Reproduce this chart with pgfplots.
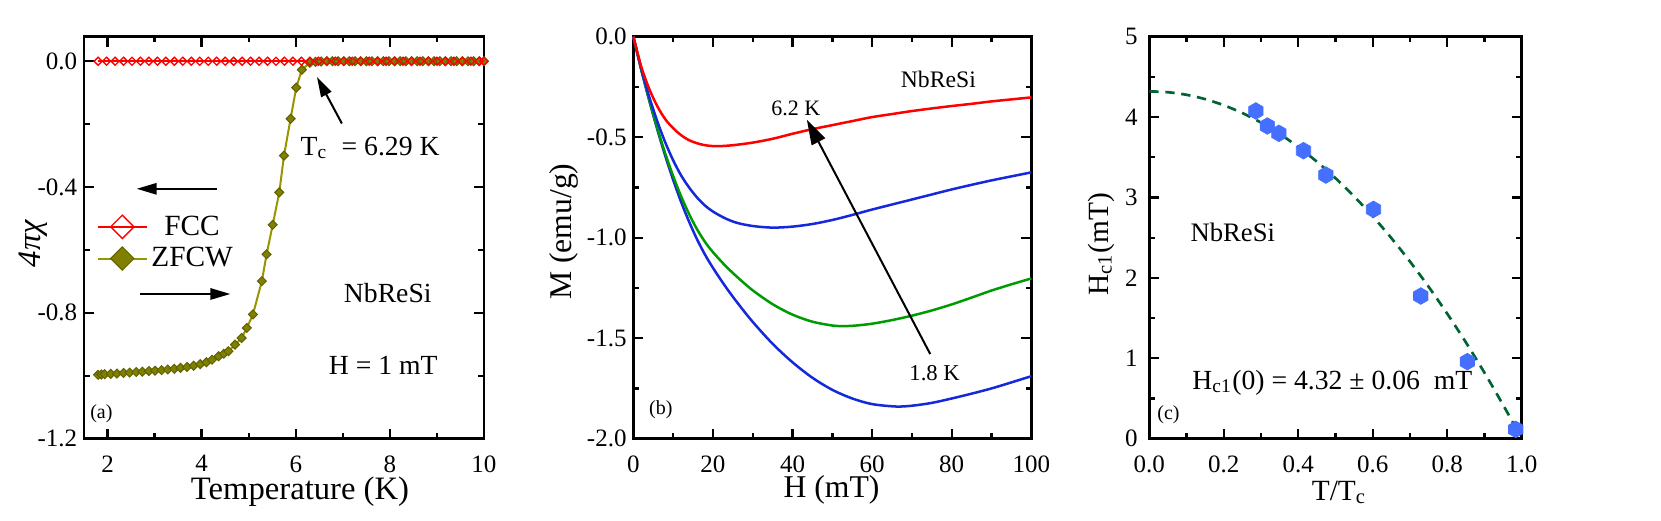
\documentclass[border=0pt]{standalone}
\usepackage{fontspec}
\setmainfont{Liberation Serif}
\usepackage{pgfplots}
\pgfplotsset{compat=1.18}
\usetikzlibrary{arrows.meta}

\definecolor{gred}{RGB}{255,0,0}
\definecolor{gblue}{RGB}{20,40,220}
\definecolor{ggreen}{RGB}{0,155,0}
\definecolor{golive}{RGB}{128,128,0}
\definecolor{goliveline}{RGB}{150,150,0}
\definecolor{hexblue}{RGB}{69,112,255}
\definecolor{dgreen}{RGB}{0,100,50}

\newcommand\fs[1]{\fontsize{#1}{#1}\selectfont}

% square diamond marks and a pointy-top hexagon
\pgfdeclareplotmark{sqdia}{%
  \pgfpathmoveto{\pgfqpoint{0pt}{\pgfplotmarksize}}%
  \pgfpathlineto{\pgfqpoint{\pgfplotmarksize}{0pt}}%
  \pgfpathlineto{\pgfqpoint{0pt}{-\pgfplotmarksize}}%
  \pgfpathlineto{\pgfqpoint{-\pgfplotmarksize}{0pt}}%
  \pgfpathclose\pgfusepathqstroke}
\pgfdeclareplotmark{sqdia*}{%
  \pgfpathmoveto{\pgfqpoint{0pt}{\pgfplotmarksize}}%
  \pgfpathlineto{\pgfqpoint{\pgfplotmarksize}{0pt}}%
  \pgfpathlineto{\pgfqpoint{0pt}{-\pgfplotmarksize}}%
  \pgfpathlineto{\pgfqpoint{-\pgfplotmarksize}{0pt}}%
  \pgfpathclose\pgfusepathqfillstroke}
\pgfdeclareplotmark{hex*}{%
  \pgfpathmoveto{\pgfqpoint{0pt}{\pgfplotmarksize}}%
  \pgfpathlineto{\pgfqpoint{0.866\pgfplotmarksize}{0.5\pgfplotmarksize}}%
  \pgfpathlineto{\pgfqpoint{0.866\pgfplotmarksize}{-0.5\pgfplotmarksize}}%
  \pgfpathlineto{\pgfqpoint{0pt}{-\pgfplotmarksize}}%
  \pgfpathlineto{\pgfqpoint{-0.866\pgfplotmarksize}{-0.5\pgfplotmarksize}}%
  \pgfpathlineto{\pgfqpoint{-0.866\pgfplotmarksize}{0.5\pgfplotmarksize}}%
  \pgfpathclose\pgfusepathqfillstroke}

\pgfplotsset{
  panel/.style={
    scale only axis, anchor=south west, height=120.6pt, clip=false,
    axis line style={line width=0.8pt},
    every tick/.style={black, line width=0.7pt},
    major tick length=3pt, minor tick length=1.7pt,
    tick label style={font=\fs{7.5}},
    xticklabel style={yshift=-1.5pt},
    /pgf/number format/assume math mode=true,
    minor x tick num=1, minor y tick num=1,
  },
  onedec/.style={
    /pgf/number format/fixed,
    /pgf/number format/fixed zerofill,
    /pgf/number format/precision=1,
  },
}

\begin{document}
\begin{tikzpicture}
\useasboundingbox (-25.2pt,-24.5pt) rectangle (473.1pt,131.6pt);

% ---------------- (a) ----------------
\begin{axis}[panel, at={(0pt,0pt)}, width=120pt,
  xmin=1.5, xmax=10, ymin=-1.2, ymax=0.078,
  xtick={2,4,6,8,10},
  ytick={-1.2,-0.8,-0.4,0},
  yticklabel style={onedec, xshift=1.5pt},
  xlabel={Temperature (K)},
  xlabel style={font=\fs{9.8}, at={(axis description cs:0.54,-0.152)}, anchor=base},
  ylabel={\textit{4πχ}},
  ylabel style={font=\fs{9.8}, at={(axis description cs:-0.108,0.486)}, anchor=base},
  reverse legend,
  legend cell align=center,
  legend image code/.code={\draw[mark repeat=2,mark phase=2] plot coordinates {(0pt,0pt) (7.35pt,0pt) (14.7pt,0pt)};},
  legend image post style={mark size=3.5pt},
  legend style={at={(axis description cs:0.03,0.568)}, anchor=north west, draw=none, fill=none,
    inner sep=0pt, font=\fs{8.8},
    nodes={inner sep=1pt, text height=6.2pt, text depth=1.3pt}},
]
\addplot[goliveline, line width=0.6pt, mark=sqdia*, mark size=1.35pt,
  mark options={fill=golive, draw=golive!75!black, line width=0.3pt}]
coordinates {
 (1.80,-0.997) (1.87,-0.996) (1.94,-0.995) (2.07,-0.994) (2.20,-0.993) (2.34,-0.991)
 (2.47,-0.990) (2.61,-0.988) (2.74,-0.987) (2.88,-0.985) (3.01,-0.984) (3.15,-0.982)
 (3.28,-0.980) (3.42,-0.978) (3.55,-0.975) (3.69,-0.972) (3.83,-0.968) (3.97,-0.963)
 (4.10,-0.957) (4.22,-0.949) (4.36,-0.938) (4.47,-0.930) (4.57,-0.922) (4.71,-0.901)
 (4.85,-0.880) (4.96,-0.848) (5.09,-0.805) (5.28,-0.699) (5.38,-0.614) (5.51,-0.520)
 (5.65,-0.417) (5.75,-0.300) (5.89,-0.183) (6.01,-0.084) (6.13,-0.027) (6.30,-0.005)
 (6.42,-0.002) (6.54,-0.001) (6.66,0) (6.78,0) (6.90,0) (7.02,0) (7.14,0) (7.26,0)
 (7.38,0) (7.50,0) (7.62,0) (7.74,0) (7.86,0) (7.98,0) (8.10,0) (8.22,0) (8.34,0)
 (8.46,0) (8.58,0) (8.70,0) (8.82,0) (8.94,0) (9.06,0) (9.18,0) (9.30,0) (9.42,0)
 (9.54,0) (9.66,0) (9.78,0) (9.90,0) (10.0,0)
};
\addlegendentry{ZFCW}
\addplot[gred, line width=0.7pt, mark=sqdia, mark size=1.2pt, mark options={line width=0.4pt}]
coordinates {
 (1.80,0) (1.98,0) (2.16,0) (2.34,0) (2.52,0) (2.70,0) (2.88,0) (3.06,0) (3.24,0)
 (3.42,0) (3.60,0) (3.78,0) (3.96,0) (4.14,0) (4.32,0) (4.50,0) (4.68,0) (4.86,0)
 (5.04,0) (5.22,0) (5.40,0) (5.58,0) (5.76,0) (5.94,0) (6.12,0) (6.30,0) (6.48,0)
 (6.66,0) (6.84,0) (7.02,0) (7.20,0) (7.38,0) (7.56,0) (7.74,0) (7.92,0) (8.10,0)
 (8.28,0) (8.46,0) (8.64,0) (8.82,0) (9.00,0) (9.18,0) (9.36,0) (9.54,0) (9.72,0)
 (9.90,0) (10.0,0)
};
\addlegendentry{FCC}
\draw[line width=0.6pt, -{Triangle[length=6pt,width=3.4pt]}] (axis cs:4.32,-0.4056) -- (axis cs:2.62,-0.4056);
\draw[line width=0.6pt, -{Triangle[length=6pt,width=3.4pt]}] (axis cs:2.68,-0.740) -- (axis cs:4.61,-0.740);
\draw[line width=0.6pt, -{Triangle[length=6pt,width=3.4pt]}] (axis cs:6.98,-0.198) -- (axis cs:6.45,-0.050);
\node[anchor=base west, inner sep=0pt, font=\fs{8.3}] at (axis cs:6.09,-0.30) {T\textsubscript{c}\ \ = 6.29 K};
\node[anchor=base west, inner sep=0pt, font=\fs{8.3}] at (axis cs:7.01,-0.767) {NbReSi};
\node[anchor=base west, inner sep=0pt, font=\fs{8.3}] at (axis cs:6.69,-0.997) {H = 1 mT};
\node[anchor=west, inner sep=0pt, font=\fs{6}] at (axis cs:1.62,-1.12) {(a)};
\end{axis}

% ---------------- (b) ----------------
\begin{axis}[panel, at={(164.8pt,0pt)}, width=119.4pt,
  xmin=0, xmax=100, ymin=-2, ymax=0,
  xtick={0,20,40,60,80,100},
  ytick={-2,-1.5,-1,-0.5,0},
  yticklabel style={onedec, xshift=1.5pt},
  xlabel={H (mT)},
  xlabel style={font=\fs{9.5}, at={(axis description cs:0.498,-0.147)}, anchor=base},
  ylabel={M (emu/g)},
  ylabel style={font=\fs{9.5}, at={(axis description cs:-0.155,0.515)}, anchor=base},
]
% 1.8 K
\addplot[gblue, line width=0.75pt, smooth] coordinates {
 (0,0) (2,-0.165) (4,-0.318) (6,-0.46) (8,-0.592) (10,-0.712) (12,-0.822) (14,-0.92)
 (16,-1.008) (18,-1.084) (20,-1.15) (23,-1.239) (26,-1.32) (30,-1.419) (35,-1.528)
 (40,-1.62) (45,-1.697) (50,-1.757) (55,-1.80) (60,-1.828) (66,-1.84) (70,-1.836)
 (75,-1.822) (80,-1.80) (85,-1.776) (90,-1.75) (95,-1.72) (100,-1.689)
};
\addplot[ggreen, line width=0.75pt, smooth] coordinates {
 (0,0) (2,-0.164) (4,-0.315) (6,-0.454) (8,-0.58) (10,-0.693) (12,-0.794) (14,-0.882)
 (16,-0.958) (18,-1.021) (20,-1.072) (23,-1.137) (26,-1.194) (30,-1.262) (35,-1.331)
 (40,-1.383) (45,-1.418) (50,-1.437) (53,-1.44) (56,-1.437) (60,-1.428) (65,-1.41)
 (70,-1.388) (75,-1.362) (80,-1.332) (85,-1.298) (90,-1.263) (95,-1.232) (100,-1.203)
};
\addplot[gblue, line width=0.75pt, smooth] coordinates {
 (0,0) (2,-0.16) (4,-0.30) (6,-0.42) (8,-0.525) (10,-0.615) (12,-0.69) (14,-0.75)
 (16,-0.80) (18,-0.84) (20,-0.87) (23,-0.903) (26,-0.926) (30,-0.942) (35,-0.95)
 (40,-0.945) (45,-0.932) (50,-0.912) (55,-0.887) (60,-0.86) (65,-0.835) (70,-0.81)
 (75,-0.785) (80,-0.76) (85,-0.737) (90,-0.715) (95,-0.695) (100,-0.675)
};
% 6.2 K
\addplot[gred, line width=0.75pt, smooth] coordinates {
 (0,0) (2,-0.15) (4,-0.26) (6,-0.345) (8,-0.41) (10,-0.455) (12,-0.49) (14,-0.515)
 (16,-0.53) (18,-0.54) (21,-0.545) (25,-0.54) (30,-0.527) (35,-0.508) (40,-0.483)
 (45,-0.46) (50,-0.44) (55,-0.42) (60,-0.40) (65,-0.385) (70,-0.37) (75,-0.357)
 (80,-0.345) (85,-0.334) (90,-0.322) (95,-0.312) (100,-0.302)
};
\draw[line width=0.6pt, -{Triangle[length=7.5pt,width=4.5pt]}] (axis cs:74.6,-1.579) -- (axis cs:43.6,-0.413);
\node[anchor=base west, inner sep=0pt, font=\fs{7.1}] at (axis cs:67.06,-0.251) {NbReSi};
\node[anchor=base west, inner sep=0pt, font=\fs{6.6}] at (axis cs:34.5,-0.392) {6.2 K};
\node[anchor=base west, inner sep=0pt, font=\fs{6.8}] at (axis cs:69.2,-1.711) {1.8 K};
\node[anchor=west, inner sep=0pt, font=\fs{6}] at (axis cs:3.8,-1.855) {(b)};
\end{axis}

% ---------------- (c) ----------------
\begin{axis}[panel, at={(319.6pt,0pt)}, width=111.7pt,
  xmin=0, xmax=1, ymin=0, ymax=5,
  xtick={0,0.2,0.4,0.6,0.8,1},
  ytick={0,1,2,3,4,5},
  xticklabel style={onedec},
  xlabel={T/T\textsubscript{c}},
  xlabel style={font=\fs{8.8}, at={(axis description cs:0.51,-0.153)}, anchor=base},
  ylabel={H\textsubscript{c1}(mT)},
  ylabel style={font=\fs{8.8}, at={(axis description cs:-0.110,0.484)}, anchor=base},
]
\addplot[dgreen, line width=0.8pt, dash pattern=on 2.8pt off 2pt, smooth] coordinates {
 (0,4.32) (0.05,4.309) (0.1,4.277) (0.15,4.223) (0.2,4.147) (0.25,4.050) (0.3,3.931)
 (0.35,3.791) (0.4,3.629) (0.45,3.445) (0.5,3.240) (0.55,3.013) (0.6,2.765)
 (0.65,2.495) (0.7,2.203) (0.75,1.890) (0.8,1.555) (0.85,1.199) (0.9,0.821)
 (0.95,0.421) (0.98,0.171)
};
\addplot[only marks, mark=hex*, mark size=2.5pt, mark options={fill=hexblue, draw=hexblue, line width=0.2pt}]
coordinates {
 (0.286,4.076) (0.317,3.889) (0.348,3.798) (0.414,3.582) (0.474,3.279)
 (0.602,2.852) (0.729,1.774) (0.854,0.958) (0.984,0.116)
};
\node[anchor=base west, inner sep=0pt, font=\fs{8}] at (axis cs:0.109,2.45) {NbReSi};
\node[anchor=base west, inner sep=0pt, font=\fs{8.3}] at (axis cs:0.114,0.614) {H\textsubscript{c1}(0) = 4.32 ± 0.06\ \ mT};
\node[anchor=west, inner sep=0pt, font=\fs{6}] at (axis cs:0.0197,0.294) {(c)};
\end{axis}
\end{tikzpicture}
\end{document}
